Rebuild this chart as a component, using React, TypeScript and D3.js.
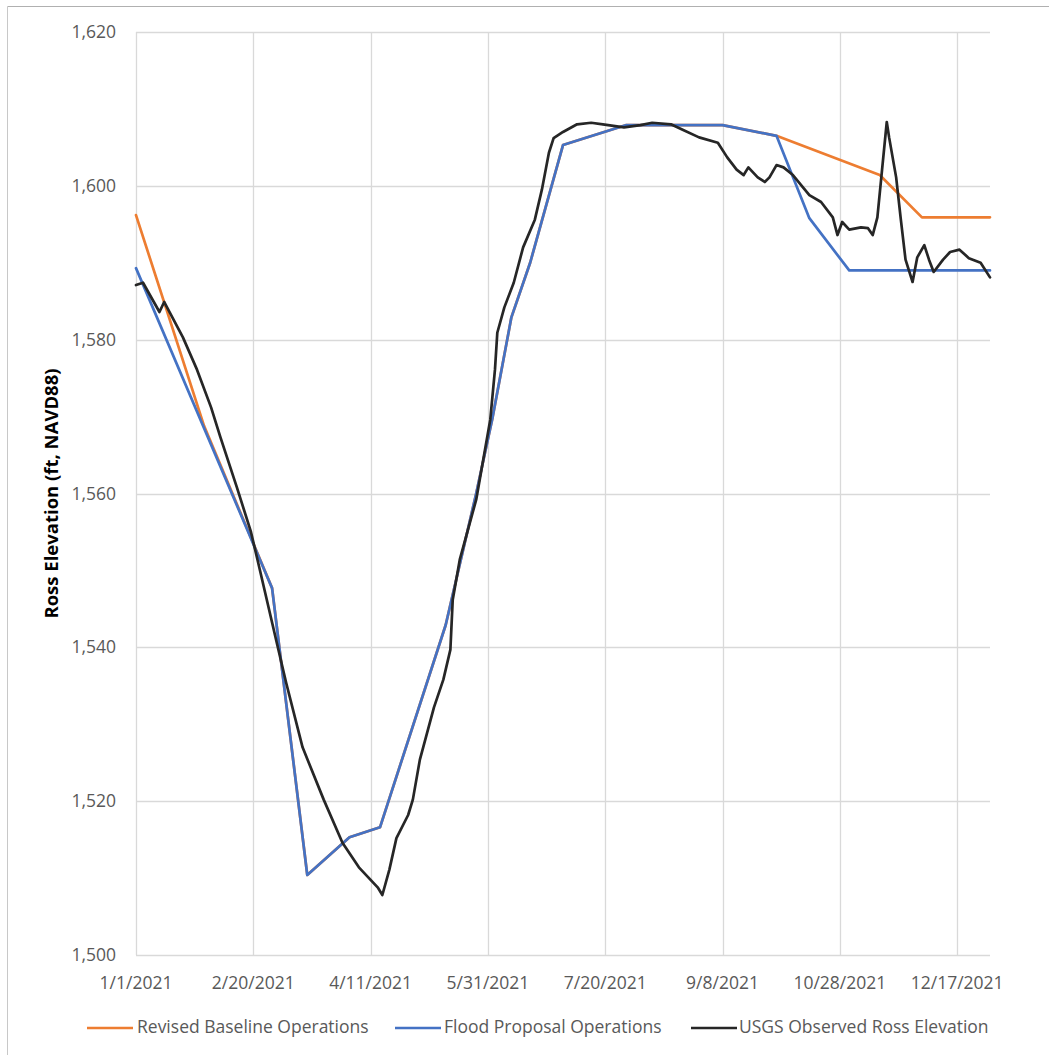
import React from "react";
import * as d3 from "d3";

// ---- data (day offset from 1/1/2021, elevation ft) ----
const startDate = new Date(2021, 0, 1);
const endDate = new Date(2021, 11, 31);

const baselineDay = [0, 29, 58, 73, 91, 104, 132, 145, 152, 160, 168, 182, 209, 250, 273, 317, 335, 364];
const baselineVal = [1596.2, 1568.8, 1547.7, 1510.4, 1515.3, 1516.6, 1542.9, 1560.0, 1569.9, 1582.9, 1590.0, 1605.3, 1607.9, 1607.9, 1606.5, 1601.4, 1595.9, 1595.9];

const floodDay = [0, 58, 73, 91, 104, 132, 145, 152, 160, 168, 182, 209, 250, 273, 287, 304, 364];
const floodVal = [1589.3, 1547.7, 1510.4, 1515.3, 1516.6, 1542.9, 1560.0, 1569.9, 1582.9, 1590.0, 1605.3, 1607.9, 1607.9, 1606.5, 1595.8, 1589.0, 1589.0];

const observedDay = [0, 3, 10, 12, 20, 26, 32, 36, 43, 49, 53, 60, 64, 71, 80, 88, 95, 103, 105, 108, 111, 116, 118, 121, 127, 131, 134, 135, 138, 145, 151, 153, 154, 157, 161, 165, 170, 173, 176, 178, 182, 188, 194, 199, 208, 215, 220, 228, 233, 240, 248, 252, 256, 259, 261, 265, 268, 270, 273, 276, 280, 287, 292, 297, 299, 301, 304, 309, 312, 314, 316, 318, 320, 321, 324, 326, 328, 331, 333, 336, 338, 340, 344, 347, 351, 355, 360, 364];
const observedVal = [1587.1, 1587.4, 1583.6, 1584.9, 1580.3, 1576.1, 1571.2, 1567.3, 1560.8, 1555.0, 1549.8, 1540.6, 1535.4, 1527.0, 1520.2, 1514.6, 1511.4, 1508.8, 1507.8, 1511.1, 1515.2, 1518.2, 1520.2, 1525.4, 1532.2, 1535.8, 1539.7, 1546.2, 1551.4, 1559.2, 1569.6, 1576.1, 1580.9, 1584.2, 1587.4, 1592.0, 1595.6, 1599.5, 1604.3, 1606.2, 1607.0, 1608.0, 1608.2, 1608.0, 1607.6, 1607.9, 1608.2, 1608.0, 1607.3, 1606.3, 1605.6, 1603.7, 1602.1, 1601.4, 1602.4, 1601.1, 1600.5, 1601.1, 1602.7, 1602.4, 1601.4, 1598.8, 1597.9, 1595.9, 1593.6, 1595.3, 1594.3, 1594.6, 1594.5, 1593.6, 1595.9, 1602.1, 1608.3, 1606.3, 1601.1, 1595.6, 1590.4, 1587.5, 1590.7, 1592.3, 1590.4, 1588.8, 1590.4, 1591.4, 1591.7, 1590.6, 1590.0, 1588.1];

const xTickDays = [0, 50, 100, 150, 200, 250, 300, 350];
const xTickLabels = ["1/1/2021", "2/20/2021", "4/11/2021", "5/31/2021", "7/20/2021", "9/8/2021", "10/28/2021", "12/17/2021"];
const yTicks = [1500, 1520, 1540, 1560, 1580, 1600, 1620];

const seriesNames = ["Revised Baseline Operations", "Flood Proposal Operations", "USGS Observed Ross Elevation"];
const seriesColors = ["#ED7D31", "#4472C4", "#262626"];

const W = 1049;
const H = 1055;
const plot = { left: 136, right: 990, top: 32, bottom: 955 };
const font = "'Open Sans', 'Liberation Sans', sans-serif";

export default function App() {
  const x = d3.scaleTime().domain([startDate, endDate]).range([plot.left, plot.right]);
  const y = d3.scaleLinear().domain([1500, 1620]).range([plot.bottom, plot.top]);
  const toDate = (d: number) => d3.timeDay.offset(startDate, d);

  const mk = (days: number[], vals: number[]) =>
    days.map((d, i) => ({ date: toDate(d), v: vals[i] }));

  const line = d3
    .line<{ date: Date; v: number }>()
    .x((p) => x(p.date))
    .y((p) => y(p.v));

  const series = [
    mk(baselineDay, baselineVal),
    mk(floodDay, floodVal),
    mk(observedDay, observedVal),
  ];

  const legendX = [87, 395, 691];
  const legendTextX = [137, 444, 739];

  return (
    <div style={{ position: "absolute", left: 0, top: 0 }}>
      <svg width={W} height={H} style={{ display: "block", background: "#fff" }}>
        <rect x={0} y={0} width={W} height={H} fill="#fff" />
        {/* outer border */}
        <line x1={7.5} x2={W} y1={6.5} y2={6.5} stroke="#b0b0b0" strokeWidth={1} />
        <line x1={7.5} x2={7.5} y1={6.5} y2={H} stroke="#c8c8c8" strokeWidth={1} />

        {/* horizontal gridlines */}
        {yTicks.map((t) => (
          <line
            key={"h" + t}
            x1={plot.left}
            x2={plot.right}
            y1={Math.round(y(t)) + 0.5}
            y2={Math.round(y(t)) + 0.5}
            stroke="#d9d9d9"
            strokeWidth={1.3}
          />
        ))}
        {/* vertical gridlines */}
        {xTickDays.map((d) => (
          <line
            key={"v" + d}
            x1={Math.round(x(toDate(d))) + 0.5}
            x2={Math.round(x(toDate(d))) + 0.5}
            y1={plot.top}
            y2={plot.bottom}
            stroke="#d9d9d9"
            strokeWidth={1.3}
          />
        ))}

        {/* y tick labels */}
        {yTicks.map((t) => (
          <text
            key={"yl" + t}
            x={116}
            y={y(t) + 6}
            textAnchor="end"
            fontFamily={font}
            fontSize={17.5}
            fill="#595959"
          >
            {d3.format(",")(t)}
          </text>
        ))}
        {/* x tick labels */}
        {xTickDays.map((d, i) => (
          <text
            key={"xl" + d}
            x={x(toDate(d))}
            y={989}
            textAnchor="middle"
            fontFamily={font}
            fontSize={17.5}
            fill="#595959"
          >
            {xTickLabels[i]}
          </text>
        ))}

        {/* y axis title */}
        <text
          transform={`translate(58, ${(plot.top + plot.bottom) / 2}) rotate(-90)`}
          textAnchor="middle"
          fontFamily={font}
          fontWeight="bold"
          fontSize={18.5}
          fill="#000"
        >
          Ross Elevation (ft, NAVD88)
        </text>

        {/* series */}
        {series.map((s, i) => (
          <path
            key={"s" + i}
            d={line(s) || ""}
            fill="none"
            stroke={seriesColors[i]}
            strokeWidth={2.7}
            strokeLinejoin="round"
            strokeLinecap="round"
          />
        ))}

        {/* legend */}
        {seriesNames.map((n, i) => (
          <g key={"lg" + i}>
            <line
              x1={legendX[i]}
              x2={legendX[i] + 46}
              y1={1028}
              y2={1028}
              stroke={seriesColors[i]}
              strokeWidth={2.7}
            />
            <text x={legendTextX[i]} y={1033} fontFamily={font} fontSize={17.5} fill="#595959">
              {n}
            </text>
          </g>
        ))}
      </svg>
    </div>
  );
}
